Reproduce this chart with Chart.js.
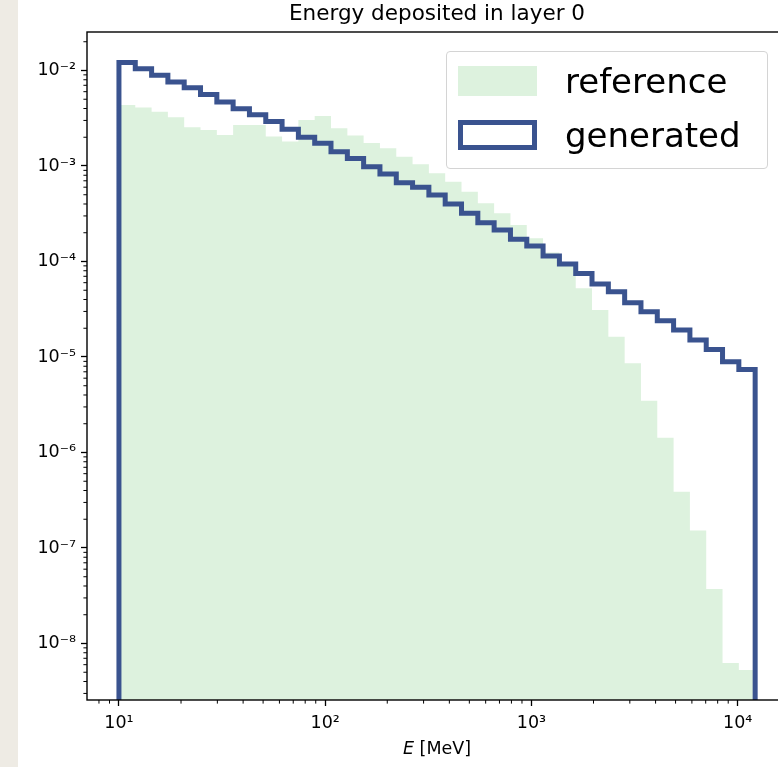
<!DOCTYPE html>
<html>
<head>
<meta charset="utf-8">
<title>Energy deposited in layer 0</title>
<script src="https://cdn.jsdelivr.net/npm/chart.js@4.4.1/dist/chart.umd.min.js"></script>
<style>
  html, body {
    margin: 0;
    padding: 0;
    width: 778px;
    height: 767px;
    overflow: hidden;
    background: #fff;
    font-family: 'DejaVu Sans', sans-serif;
  }
  .paper {
    position: absolute;
    left: 0;
    top: 0;
    width: 18px;
    height: 767px;
    background: #eeebe4;
  }
  .plot {
    position: absolute;
    left: 0;
    top: 0;
    width: 800px;
    height: 767px;
  }
  .xlabel {
    position: absolute;
    left: 87px;
    width: 700px;
    top: 740px;
    font-size: 17.5px;
    line-height: 17.5px;
    text-align: center;
    color: #000;
  }
  .legend {
    position: absolute;
    left: 446px;
    top: 51px;
    width: 320px;
    height: 116px;
    border: 1px solid #d4d4d4;
    border-radius: 4px;
    background: rgba(255, 255, 255, 0.8);
  }
  .legend__patch {
    position: absolute;
    box-sizing: border-box;
    width: 79px;
    height: 30px;
    left: 11px;
  }
  .legend__patch--ref {
    top: 14px;
    background: #ddf2de;
  }
  .legend__patch--gen {
    top: 68px;
    border: 5px solid #3a538f;
  }
  .legend__text {
    position: absolute;
    left: 118px;
    font-size: 34px;
    line-height: 34px;
    color: #000;
  }
</style>
</head>
<body>
<div class="paper"></div>
<div class="plot"><canvas id="energy-canvas"></canvas></div>
<div class="xlabel"><i>E</i> [MeV]</div>
<div class="legend">
  <div class="legend__patch legend__patch--ref"></div>
  <span class="legend__text" style="top: 12px;">reference</span>
  <div class="legend__patch legend__patch--gen"></div>
  <span class="legend__text" style="top: 66px;">generated</span>
</div>

<script>
// bin edges [MeV], 39 log-spaced bins from 10 MeV
const binEdges = [
  10, 12.0, 14.4, 17.27, 20.72, 24.86, 29.83, 35.78, 42.93, 51.51,
  61.8, 74.15, 88.96, 106.7, 128.1, 153.6, 184.3, 221.2, 265.3, 318.3,
  381.9, 458.2, 549.8, 659.6, 791.4, 949.5, 1139, 1367, 1640, 1967,
  2361, 2832, 3398, 4077, 4891, 5868, 7041, 8447, 10134, 12159,
];

const referenceDensity = [
  4.35e-3, 4.1e-3, 3.7e-3, 3.24e-3, 2.54e-3, 2.38e-3, 2.11e-3, 2.69e-3, 2.69e-3, 2.04e-3,
  1.8e-3, 3.03e-3, 3.34e-3, 2.48e-3, 2.09e-3, 1.74e-3, 1.53e-3, 1.25e-3, 1.04e-3, 8.4e-4,
  6.86e-4, 5.38e-4, 4.07e-4, 3.2e-4, 2.41e-4, 1.75e-4, 1.24e-4, 9.2e-5, 5.24e-5, 3.1e-5,
  1.63e-5, 8.6e-6, 3.49e-6, 1.43e-6, 3.89e-7, 1.52e-7, 3.72e-8, 6.25e-9, 5.28e-9,
];

const generatedDensity = [
  1.21e-2, 1.04e-2, 8.9e-3, 7.6e-3, 6.6e-3, 5.6e-3, 4.68e-3, 3.98e-3, 3.44e-3, 2.92e-3,
  2.42e-3, 2.0e-3, 1.73e-3, 1.41e-3, 1.2e-3, 9.8e-4, 8.25e-4, 6.68e-4, 5.98e-4, 4.97e-4,
  4.0e-4, 3.2e-4, 2.55e-4, 2.14e-4, 1.71e-4, 1.45e-4, 1.14e-4, 9.4e-5, 7.5e-5, 5.8e-5,
  4.83e-5, 3.7e-5, 2.98e-5, 2.4e-5, 1.92e-5, 1.51e-5, 1.2e-5, 8.9e-6, 7.4e-6,
];

const xTickValues = [10, 100, 1000, 10000];
const xTickLabels = ['10¹', '10²', '10³', '10⁴'];
const yTickValues = [1e-8, 1e-7, 1e-6, 1e-5, 1e-4, 1e-3, 1e-2];
const yTickLabels = ['10⁻⁸', '10⁻⁷', '10⁻⁶', '10⁻⁵', '10⁻⁴', '10⁻³', '10⁻²'];

const xRange = [7.0, 17350];
const yRange = [2.56e-9, 0.0253];

Chart.defaults.font.family = "'DejaVu Sans', sans-serif";
Chart.defaults.color = '#000';

// minor ticks k * 10^n inside the axis range
function minorTicks(range, expFrom, expTo) {
  const out = [];
  for (let e = expFrom; e <= expTo; e++) {
    for (let k = 2; k <= 9; k++) {
      const v = k * Math.pow(10, e);
      if (v > range[0] && v < range[1]) out.push(v);
    }
  }
  return out;
}
const xMinor = minorTicks(xRange, 0, 4);
const yMinor = minorTicks(yRange, -9, -2);

// histogram outline: left edges + closing edge, dropping to the axis floor
function stepPoints(counts) {
  const pts = [{ x: binEdges[0], y: yRange[0] }];
  counts.forEach((c, i) => pts.push({ x: binEdges[i], y: c }));
  const last = binEdges[binEdges.length - 1];
  pts.push({ x: last, y: counts[counts.length - 1] });
  pts.push({ x: last, y: yRange[0] });
  return pts;
}

const axesFrame = {
  id: 'axesFrame',
  afterDraw(chart) {
    const { ctx, chartArea: a } = chart;
    const sx = chart.scales.x;
    const sy = chart.scales.y;
    ctx.save();
    ctx.strokeStyle = '#000';
    ctx.lineWidth = 1;
    ctx.beginPath();
    xMinor.forEach((v) => {
      const px = sx.getPixelForValue(v);
      ctx.moveTo(px, a.bottom);
      ctx.lineTo(px, a.bottom + 3.6);
    });
    yMinor.forEach((v) => {
      const py = sy.getPixelForValue(v);
      ctx.moveTo(a.left - 3.6, py);
      ctx.lineTo(a.left, py);
    });
    ctx.stroke();
    ctx.lineWidth = 1.4;
    ctx.strokeRect(a.left, a.top, a.right - a.left, a.bottom - a.top);
    ctx.restore();
  },
};

const tickGrid = {
  drawOnChartArea: false,
  tickLength: 6,
  tickWidth: 1.3,
  tickColor: '#000',
};

new Chart(document.getElementById('energy-canvas'), {
  type: 'line',
  data: {
    datasets: [
      {
        label: 'generated',
        data: stepPoints(generatedDensity),
        stepped: 'before',
        borderColor: '#3a538f',
        borderWidth: 5,
        pointRadius: 0,
        fill: false,
        order: 0,
      },
      {
        label: 'reference',
        data: stepPoints(referenceDensity),
        stepped: 'before',
        borderColor: 'transparent',
        borderWidth: 0,
        backgroundColor: '#ddf2de',
        pointRadius: 0,
        fill: 'start',
        order: 1,
      },
    ],
  },
  options: {
    responsive: true,
    maintainAspectRatio: false,
    animation: false,
    events: [],
    layout: {
      padding: { top: 0, right: 13, bottom: 0, left: 0 },
    },
    scales: {
      x: {
        type: 'logarithmic',
        min: xRange[0],
        max: xRange[1],
        afterBuildTicks: (scale) => {
          scale.ticks = xTickValues.map((v) => ({ value: v, major: true }));
        },
        afterFit: (scale) => {
          scale.height = 67;
        },
        ticks: {
          autoSkip: false,
          maxRotation: 0,
          padding: 7,
          font: { size: 17.5 },
          callback: (value, index) => xTickLabels[index],
        },
        grid: tickGrid,
        border: { display: false },
      },
      y: {
        type: 'logarithmic',
        min: yRange[0],
        max: yRange[1],
        afterBuildTicks: (scale) => {
          scale.ticks = yTickValues.map((v) => ({ value: v, major: true }));
        },
        afterFit: (scale) => {
          scale.width = 87;
        },
        ticks: {
          autoSkip: false,
          padding: 5,
          font: { size: 17.5 },
          callback: (value, index) => yTickLabels[index],
        },
        grid: tickGrid,
        border: { display: false },
      },
    },
    plugins: {
      legend: { display: false },
      tooltip: { enabled: false },
      title: {
        display: true,
        text: 'Energy deposited in layer 0',
        fullSize: false,
        color: '#000',
        font: { size: 21.5, weight: 'normal', lineHeight: 1.2 },
        padding: { top: 2, bottom: 4.2 },
      },
    },
  },
  plugins: [axesFrame],
});
</script>
</body>
</html>
